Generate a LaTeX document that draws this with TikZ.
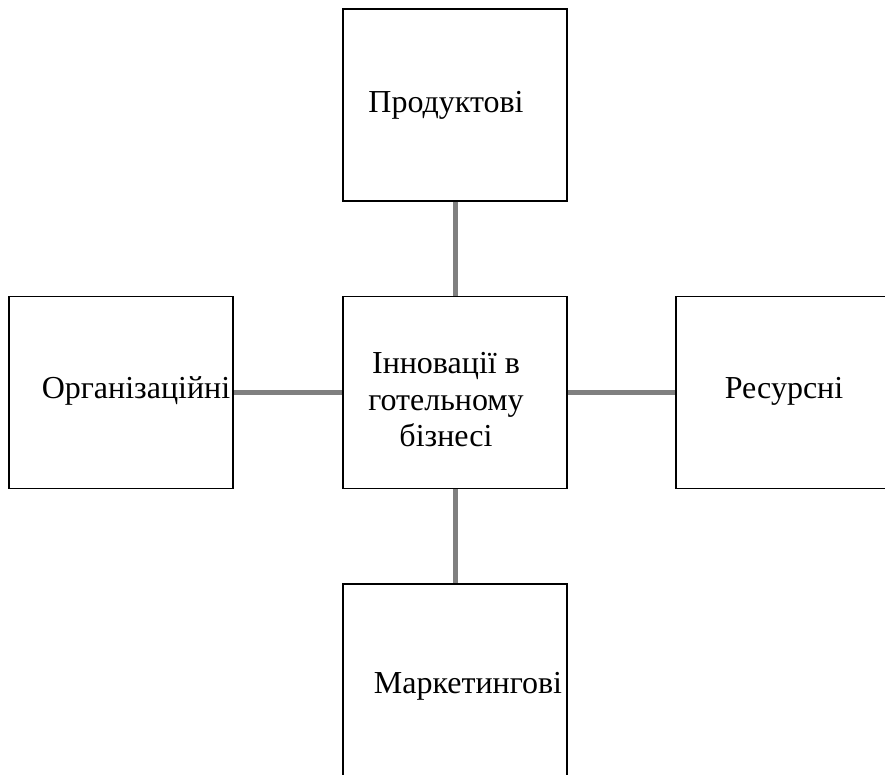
\documentclass[tikz,border=0pt]{standalone}
\usepackage{fontspec}
\setmainfont{Liberation Serif}
\usetikzlibrary{positioning}

\tikzset{
  blok/.style = {rectangle, draw, line width=1.6pt,
                 minimum width=224pt, minimum height=192pt},
  tekst/.style = {font=\fontsize{32}{36.5}\selectfont, align=center, inner sep=0pt},
  zv/.style = {line width=5pt, gray}
}

\begin{document}
\begin{tikzpicture}[x=1pt, y=-1pt]
\useasboundingbox (0,0) rectangle (885,774);
\clip (0,0) rectangle (885,774);

% blocks
\node [blok, label={[tekst, xshift=-9pt, yshift=-7.5pt]center:Інновації в\\готельному\\бізнесі}] at (455,392.5) (innov) {};
\node [blok, label={[tekst, xshift=-9pt]center:Продуктові}] at (455,105) (prod) {};
\node [blok, label={[tekst, xshift=15pt, yshift=2pt]center:Організаційні}] at (121,392.5) (org) {};
\node [blok, label={[tekst, xshift=-4pt, yshift=1pt]center:Ресурсні}] at (788,392.5) (res) {};
\node [blok, label={[tekst, xshift=13pt, yshift=-6pt]center:Маркетингові}] at (455,680) (mark) {};

% connections
\draw [zv] (prod.south) -- (innov.north);
\draw [zv] (org.east) -- (innov.west);
\draw [zv] (innov.east) -- (res.west);
\draw [zv] (innov.south) -- (mark.north);
\end{tikzpicture}
\end{document}
